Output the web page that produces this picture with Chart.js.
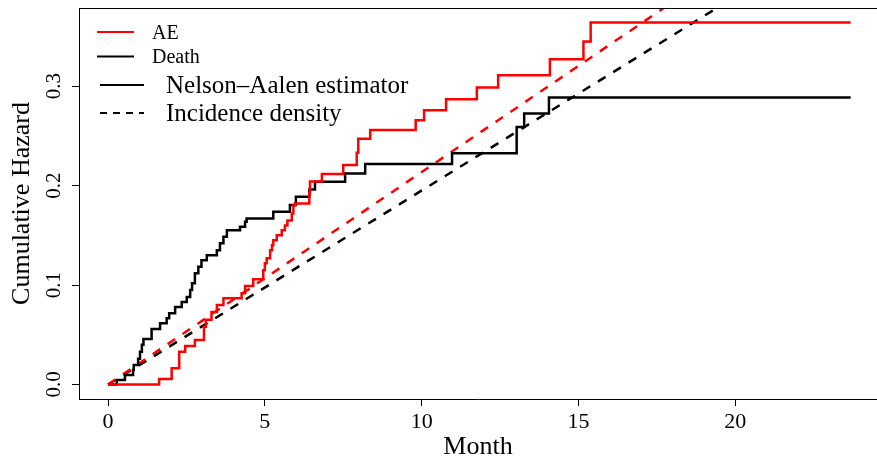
<!DOCTYPE html>
<html>
<head>
<meta charset="utf-8">
<script src="https://cdn.jsdelivr.net/npm/chart.js@4/dist/chart.umd.min.js"></script>
<style>
  body { margin: 0; background: #fff; }
  canvas { display: block; }
</style>
</head>
<body>
<canvas id="hazard" width="877" height="458"></canvas>
<script>
// Nelson-Aalen steps: month of each jump and cumulative hazard after it
let aeMonths = [0, 1.63, 2.03, 2.27, 2.46, 2.77, 3.06, 3.12, 3.3, 3.47, 3.68, 4.26, 4.37, 4.63, 4.95, 5.0, 5.06, 5.17, 5.23, 5.27, 5.38, 5.54, 5.64, 5.72, 5.86, 5.91, 5.96, 6.42, 6.44, 6.82, 7.5, 7.93, 7.98, 8.36, 9.81, 10.08, 10.78, 11.76, 12.44, 14.09, 15.16, 15.39, 23.68]
let aeHazard = [0, 0.0055, 0.0163, 0.033, 0.0387, 0.0447, 0.058, 0.065, 0.073, 0.080, 0.0866, 0.0917, 0.099, 0.1057, 0.115, 0.122, 0.127, 0.135, 0.140, 0.145, 0.150, 0.155, 0.160, 0.165, 0.172, 0.180, 0.182, 0.192, 0.204, 0.2116, 0.2206, 0.233, 0.247, 0.2558, 0.2658, 0.2759, 0.2869, 0.2987, 0.311, 0.327, 0.345, 0.364, 0.364]

let deathMonths = [0, 0.28, 0.54, 0.8, 0.82, 0.96, 1.02, 1.08, 1.13, 1.39, 1.66, 1.87, 1.95, 2.14, 2.35, 2.51, 2.62, 2.68, 2.77, 2.88, 2.98, 3.15, 3.47, 3.57, 3.68, 3.79, 4.21, 4.37, 4.42, 5.27, 5.80, 5.99, 6.42, 6.6, 7.56, 8.2, 10.97, 13.03, 13.27, 14.06, 23.68]
let deathHazard = [0, 0.0045, 0.0095, 0.0146, 0.0196, 0.026, 0.033, 0.040, 0.0457, 0.0558, 0.0615, 0.0665, 0.0716, 0.078, 0.083, 0.088, 0.095, 0.1017, 0.1118, 0.1184, 0.125, 0.130, 0.135, 0.142, 0.1485, 0.155, 0.1586, 0.1636, 0.167, 0.1737, 0.1804, 0.1887, 0.196, 0.2038, 0.2122, 0.2216, 0.2326, 0.259, 0.2726, 0.2887, 0.2887]

// Incidence density lines (straight, from the origin)
let densityMonths = [0, 24]
let aeDensity = [0, 0.5126]
let deathDensity = [0, 0.468]

let xTicks = [0, 5, 10, 15, 20]
let yTicks = [0, 0.1, 0.2, 0.3]
let yTickLabels = ['0.0', '0.1', '0.2', '0.3']

const serif = '"Liberation Serif", "DejaVu Serif", serif';

function toPoints(xs, ys) {
    return xs.map((x, i) => ({ x: x, y: ys[i] }));
}

// box top line, rotated y tick labels and the two R-style legends
const extras = {
    id: 'extras',
    afterDraw(chart) {
        const ctx = chart.ctx;
        const area = chart.chartArea;
        const yScale = chart.scales.y;
        ctx.save();
        ctx.strokeStyle = '#000';
        ctx.lineWidth = 1;
        ctx.beginPath();
        ctx.moveTo(area.left, area.top + 0.5);
        ctx.lineTo(area.right, area.top + 0.5);
        ctx.stroke();

        ctx.fillStyle = '#000';
        ctx.font = '21px ' + serif;
        ctx.textAlign = 'center';
        ctx.textBaseline = 'middle';
        yTicks.forEach((v, i) => {
            const py = yScale.getPixelForValue(v);
            ctx.save();
            ctx.translate(54, py);
            ctx.rotate(-Math.PI / 2);
            ctx.fillText(yTickLabels[i], 0, 0);
            ctx.restore();
        });

        // legend 1
        ctx.textAlign = 'left';
        ctx.textBaseline = 'alphabetic';
        ctx.lineWidth = 2;
        ctx.font = '20px ' + serif;
        ctx.strokeStyle = '#ff0000';
        ctx.beginPath(); ctx.moveTo(97, 32); ctx.lineTo(134, 32); ctx.stroke();
        ctx.fillText('AE', 152, 39);
        ctx.strokeStyle = '#000';
        ctx.beginPath(); ctx.moveTo(97, 56.5); ctx.lineTo(134, 56.5); ctx.stroke();
        ctx.fillText('Death', 152, 63);

        // legend 2
        ctx.font = '25px ' + serif;
        ctx.beginPath(); ctx.moveTo(100, 85); ctx.lineTo(144, 85); ctx.stroke();
        ctx.fillText('Nelson\u2013Aalen estimator', 166, 93);
        ctx.setLineDash([7, 6]);
        ctx.beginPath(); ctx.moveTo(100, 113); ctx.lineTo(144, 113); ctx.stroke();
        ctx.setLineDash([]);
        ctx.fillText('Incidence density', 166, 121);
        ctx.restore();
    }
};

var ctxHazard = document.getElementById('hazard').getContext('2d');
var chartHazard = new Chart(ctxHazard, {
    type: 'line',
    data: {
        datasets: [{
            label: 'AE',
            data: toPoints(aeMonths, aeHazard),
            borderColor: '#ff0000',
            borderWidth: 2.5,
            stepped: 'before',
            pointRadius: 0,
            fill: false
        }, {
            label: 'Death',
            data: toPoints(deathMonths, deathHazard),
            borderColor: '#000000',
            borderWidth: 2.5,
            stepped: 'before',
            pointRadius: 0,
            fill: false
        }, {
            label: 'AE incidence density',
            data: toPoints(densityMonths, aeDensity),
            borderColor: '#ff0000',
            borderWidth: 2.5,
            borderDash: [9, 9],
            pointRadius: 0,
            fill: false
        }, {
            label: 'Death incidence density',
            data: toPoints(densityMonths, deathDensity),
            borderColor: '#000000',
            borderWidth: 2.5,
            borderDash: [9, 9],
            pointRadius: 0,
            fill: false
        }]
    },
    options: {
        responsive: false,
        animation: false,
        devicePixelRatio: 1,
        layout: { padding: { top: 8, right: 0, left: 0, bottom: 0 } },
        plugins: {
            legend: { display: false },
            tooltip: { enabled: false }
        },
        scales: {
            x: {
                type: 'linear',
                min: -0.925,
                max: 24.52,
                afterBuildTicks: s => { s.ticks = xTicks.map(v => ({ value: v })); },
                afterFit: s => { s.height = 59; },
                ticks: {
                    autoSkip: false,
                    maxRotation: 0,
                    padding: 3,
                    color: '#000',
                    font: { family: serif, size: 22 }
                },
                grid: { drawOnChartArea: false, drawTicks: true, tickLength: 7, tickColor: '#000', color: '#000' },
                border: { display: true, color: '#000', width: 1 },
                title: {
                    display: true,
                    text: 'Month',
                    color: '#000',
                    font: { family: serif, size: 26, lineHeight: 0.85 },
                    padding: { top: 0, bottom: 0 }
                }
            },
            y: {
                type: 'linear',
                min: -0.0146,
                max: 0.3786,
                afterBuildTicks: s => { s.ticks = yTicks.map(v => ({ value: v })); },
                afterFit: s => { s.width = 79; },
                ticks: { display: false },
                grid: { drawOnChartArea: false, drawTicks: true, tickLength: 7, tickColor: '#000', color: '#000' },
                border: { display: true, color: '#000', width: 1 },
                title: {
                    display: true,
                    text: 'Cumulative Hazard',
                    color: '#000',
                    font: { family: serif, size: 26, lineHeight: 1.2 },
                    padding: { top: 7, bottom: 0 }
                }
            }
        }
    },
    plugins: [extras]
});
</script>
</body>
</html>
